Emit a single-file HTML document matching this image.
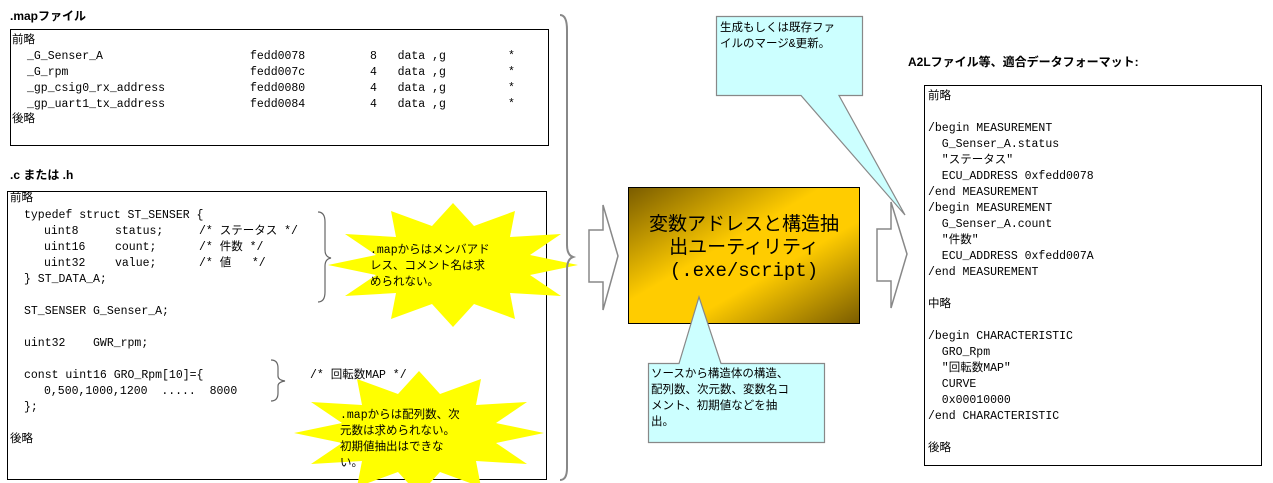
<!DOCTYPE html>
<html><head><meta charset="utf-8"><style>
body{margin:0;width:1273px;height:483px;background:#fff;position:relative;overflow:hidden}
.t{position:absolute;font-family:"Liberation Mono","Noto Sans CJK JP",monospace;font-size:11.5px;line-height:14px;white-space:pre;color:#000;margin-top:2px}
.b{font-weight:bold;font-family:"Liberation Sans","Noto Sans CJK JP",sans-serif;font-size:12px}
svg{position:absolute;left:0;top:0}
</style></head><body>
<svg width="1273" height="483">
<defs><linearGradient id="g" x1="0" y1="0" x2="1" y2="1">
<stop offset="0" stop-color="#7a5c00"/><stop offset=".42" stop-color="#ffcc00"/><stop offset=".62" stop-color="#ffcc00"/><stop offset="1" stop-color="#7a5c00"/></linearGradient></defs>
<rect x="10.5" y="29.5" width="538" height="116" fill="#fff" stroke="#000"/>
<rect x="7.5" y="191.5" width="539" height="288" fill="#fff" stroke="#000"/>
<rect x="924.5" y="85.5" width="337" height="380" fill="#fff" stroke="#000"/>
<path d="M318,212 Q325,212 325,222 L325,250 Q325,257 331,258 Q325,259 325,266 L325,292 Q325,302 318,302" fill="none" stroke="#666" stroke-width="1.2"/>
<path d="M271,360 Q278,360 278,368 L278,376 Q278,380 285,381 Q278,382 278,386 L278,393 Q278,401 271,401" fill="none" stroke="#666" stroke-width="1.2"/>
<polygon fill="#ffff00" points="578,265 530,275 561,296 510,293 515,319 474,304 453,327 432,304 391,319 396,293 345,296 376,275 328,265 376,255 345,234 396,237 391,211 432,226 453,203 474,226 515,211 510,237 561,234 530,255"/>
<polygon fill="#ffff00" transform="translate(-34,168)" points="578,265 530,275 561,296 510,293 515,319 474,304 453,327 432,304 391,319 396,293 345,296 376,275 328,265 376,255 345,234 396,237 391,211 432,226 453,203 474,226 515,211 510,237 561,234 530,255"/>
<path d="M560,15 Q567,15 567,30 L567,245 Q567,255 573,257 Q567,259 567,270 L567,468 Q567,480 560,480" fill="none" stroke="#888" stroke-width="2"/>
<polygon points="589,230 603,230 603,205 618,256 603,310 603,282 589,282" fill="#fff" stroke="#888" stroke-width="1.5"/>
<polygon points="877,229 891,229 891,202 907,254 891,308 891,281 877,281" fill="#fff" stroke="#888" stroke-width="1.5"/>
<rect x="628.5" y="187.5" width="231" height="136" fill="url(#g)" stroke="#000"/>
<polygon points="648.5,363.5 679,363.5 699,297 721,363.5 824.5,363.5 824.5,442.5 648.5,442.5" fill="#ccffff" stroke="#888" stroke-width="1.2"/>
<polygon points="716.5,16.5 862.5,16.5 862.5,95.5 839,95.5 905,215 801,95.5 716.5,95.5" fill="#ccffff" stroke="#888" stroke-width="1.2"/>
</svg>
<div class="t b" style="left:10px;top:7px">.mapファイル</div>
<div class="t" style="left:12px;top:32px">前略</div>
<div class="t" style="left:27px;top:48px">_G_Senser_A</div>
<div class="t" style="left:27px;top:64px">_G_rpm</div>
<div class="t" style="left:27px;top:80px">_gp_csig0_rx_address</div>
<div class="t" style="left:27px;top:96px">_gp_uart1_tx_address</div>
<div class="t" style="left:250px;top:48px">fedd0078</div>
<div class="t" style="left:250px;top:64px">fedd007c</div>
<div class="t" style="left:250px;top:80px">fedd0080</div>
<div class="t" style="left:250px;top:96px">fedd0084</div>
<div class="t" style="left:370px;top:48px">8   data ,g         *</div>
<div class="t" style="left:370px;top:64px">4   data ,g         *</div>
<div class="t" style="left:370px;top:80px">4   data ,g         *</div>
<div class="t" style="left:370px;top:96px">4   data ,g         *</div>
<div class="t" style="left:12px;top:111px">後略</div>
<div class="t b" style="left:10px;top:166px">.c または .h</div>
<div class="t" style="left:10px;top:190px">前略</div>
<div class="t" style="left:24px;top:207px">typedef struct ST_SENSER {</div>
<div class="t" style="left:44px;top:223px">uint8</div><div class="t" style="left:115px;top:223px">status;</div><div class="t" style="left:199px;top:223px">/* ステータス */</div>
<div class="t" style="left:44px;top:239px">uint16</div><div class="t" style="left:115px;top:239px">count;</div><div class="t" style="left:199px;top:239px">/* 件数 */</div>
<div class="t" style="left:44px;top:255px">uint32</div><div class="t" style="left:115px;top:255px">value;</div><div class="t" style="left:199px;top:255px">/* 値   */</div>
<div class="t" style="left:24px;top:271px">} ST_DATA_A;</div>
<div class="t" style="left:24px;top:303px">ST_SENSER G_Senser_A;</div>
<div class="t" style="left:24px;top:335px">uint32    GWR_rpm;</div>
<div class="t" style="left:24px;top:367px">const uint16 GRO_Rpm[10]={</div>
<div class="t" style="left:44px;top:383px">0,500,1000,1200  .....  8000</div>
<div class="t" style="left:24px;top:399px">};</div>
<div class="t" style="left:10px;top:431px">後略</div>
<div class="t" style="left:310px;top:367px">/* 回転数MAP */</div>
<div class="t" style="left:370px;top:241px;line-height:16px">.mapからはメンバアド
レス、コメント名は求
められない。</div>
<div class="t" style="left:340px;top:406px;line-height:16px">.mapからは配列数、次
元数は求められない。
初期値抽出はできな
い。</div>
<div class="t" style="left:628px;top:212px;width:232px;text-align:center;font-size:19px;line-height:23px">変数アドレスと構造抽
出ユーティリティ
(.exe/script)</div>
<div class="t" style="left:651px;top:365px;line-height:16px">ソースから構造体の構造、
配列数、次元数、変数名コ
メント、初期値などを抽
出。</div>
<div class="t" style="left:720px;top:19px;line-height:16px">生成もしくは既存ファ
イルのマージ&amp;更新。</div>
<div class="t b" style="left:908px;top:53px">A2Lファイル等、適合データフォーマット:</div>
<div class="t" style="left:928px;top:87px;line-height:16px">前略

/begin MEASUREMENT
  G_Senser_A.status
  "ステータス"
  ECU_ADDRESS 0xfedd0078
/end MEASUREMENT
/begin MEASUREMENT
  G_Senser_A.count
  "件数"
  ECU_ADDRESS 0xfedd007A
/end MEASUREMENT

中略

/begin CHARACTERISTIC
  GRO_Rpm
  "回転数MAP"
  CURVE
  0x00010000
/end CHARACTERISTIC

後略</div>
</body></html>
